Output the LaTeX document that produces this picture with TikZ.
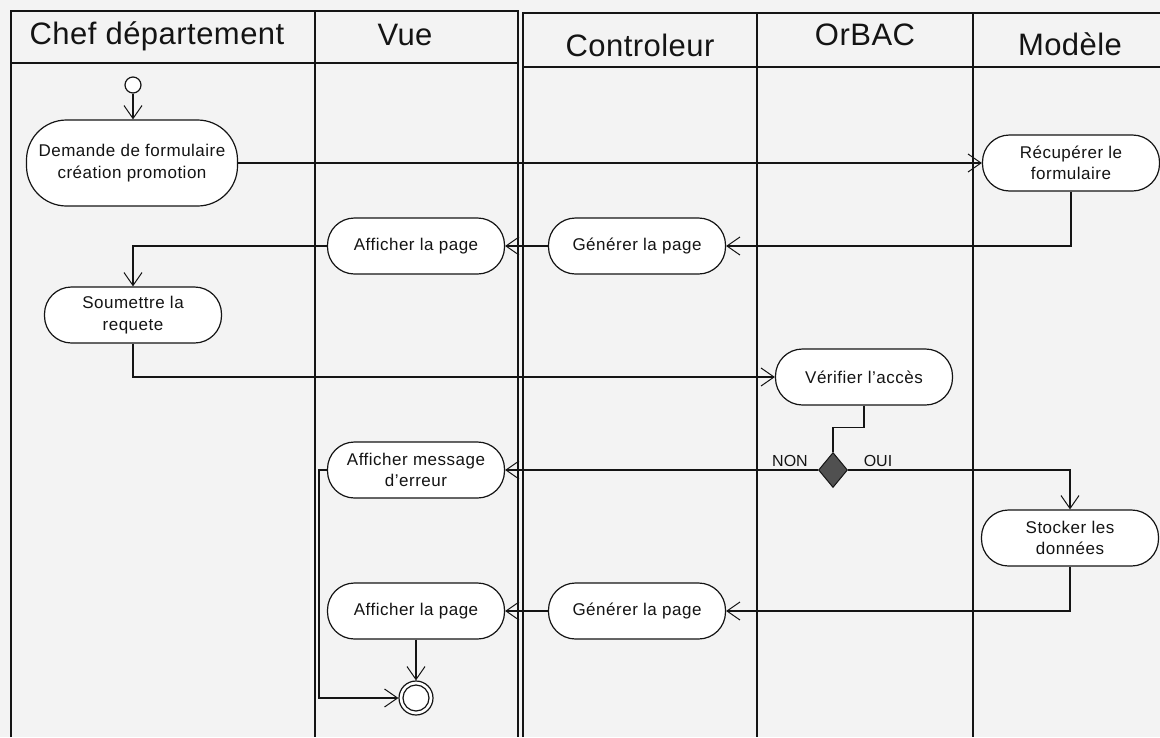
\documentclass[tikz,border=0pt]{standalone}
\usepackage{fontspec}
\setmainfont{Liberation Sans}
\usetikzlibrary{arrows.meta,shapes.geometric}
\definecolor{bgc}{RGB}{243,243,243}
\definecolor{inkc}{RGB}{20,20,20}
\definecolor{decc}{RGB}{80,80,80}
\tikzset{
  act/.style={draw=inkc, line width=1.2pt, fill=white, rounded corners=27pt,
    minimum width=177pt, minimum height=56pt, inner sep=2pt, align=center,
    text=inkc, font=\fontsize{17}{21.5}\selectfont\addfontfeature{LetterSpace=3}},
  lane/.style={draw=inkc, line width=1.4pt},
  thicklane/.style={draw=inkc, line width=2.8pt},
  hdr/.style={text=inkc, font=\fontsize{31}{36}\selectfont\addfontfeature{LetterSpace=1.5}, inner sep=0pt},
  conn/.style={draw=inkc, line width=1.2pt},
  arr/.style={conn, -{Straight Barb[length=13pt,width=18pt,line width=1pt]}},
  lbl/.style={text=inkc, font=\fontsize{16}{18}\selectfont, inner sep=0pt}
}
\begin{document}
\begin{tikzpicture}[x=1pt,y=-1pt]
\useasboundingbox (0,0) rectangle (1160,737);
\fill[bgc] (0,0) rectangle (1160,737);
% lanes
\draw[lane] (11,737) -- (11,11) -- (518,11) -- (518,737);
\draw[lane] (11,63) -- (518,63);
\draw[lane] (315,11) -- (315,737);
\draw[lane] (523,737) -- (523,13) -- (1160,13);
\draw[lane] (523,67) -- (1160,67);
\draw[lane] (757,13) -- (757,737);
\draw[thicklane] (973,13) -- (973,737);
% headers
\node[hdr] (hchef) at (157,36) {Chef département};
\node[hdr] (hvue) at (405,35) {Vue};
\node[hdr] (hctrl) at (640,45) {Controleur};
\node[hdr] (horbac) at (865,35) {OrBAC};
\node[hdr] (hmod) at (1070,44) {Modèle};
% nodes
\node[circle, draw=inkc, line width=1.2pt, fill=white, minimum size=16pt, inner sep=0pt] (init) at (133,85) {};
\node[act, minimum width=211pt, minimum height=86pt, rounded corners=40pt] (dem) at (132,163) {Demande de formulaire\\création promotion};
\node[act] (recup) at (1071,163) {Récupérer le\\formulaire};
\node[act] (gen1) at (637,246) {Générer la page};
\node[act] (aff1) at (416,246) {Afficher la page};
\node[act] (soum) at (133,315) {Soumettre la\\requete};
\node[act] (ver) at (864,377) {Vérifier l'accès};
\node[diamond, draw=inkc, line width=1pt, fill=decc, minimum width=29pt, minimum height=35pt, inner sep=0pt] (dia) at (833,470) {};
\node[act] (affmsg) at (416,470) {Afficher message\\d'erreur};
\node[act] (stock) at (1070,538) {Stocker les\\données};
\node[act] (gen2) at (637,611) {Générer la page};
\node[act] (aff2) at (416,611) {Afficher la page};
\node[circle, draw=inkc, line width=1.2pt, fill=white, minimum size=34pt, inner sep=0pt] (final) at (416,698) {};
\draw[inkc, line width=1.2pt] (final.center) circle (13pt);
\node[lbl] (non) at (790,461) {NON};
\node[lbl] (oui) at (878,461) {OUI};
% connectors
\draw[arr] (init.south) -- (init.south |- dem.north);
\draw[arr] (dem.east) -- (recup.west);
\draw[arr] (recup.south) |- (gen1.east);
\draw[arr] (gen1.west) -- (aff1.east);
\draw[arr] (aff1.west) -| (soum.north);
\draw[arr] (soum.south) |- (ver.west);
\draw[conn] (ver.south) -- ++(0,22) -| (dia.north);
\draw[arr] (dia.west) -- (affmsg.east);
\draw[arr] (dia.east) -| (stock.north);
\draw[arr] (stock.south) |- (gen2.east);
\draw[arr] (gen2.west) -- (aff2.east);
\draw[arr] (aff2.south) -- (final.north);
\draw[arr] (affmsg.west) -- ++(-8,0) |- (final.west);
\end{tikzpicture}
\end{document}
